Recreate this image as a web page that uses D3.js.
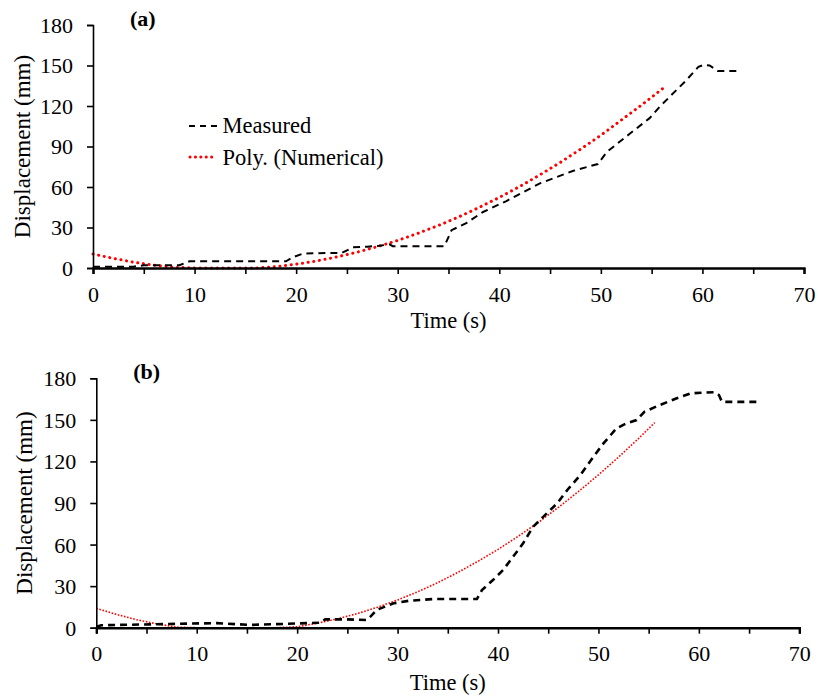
<!DOCTYPE html>
<html>
<head>
<meta charset="utf-8">
<script src="https://cdn.jsdelivr.net/npm/d3@7"></script>
<style>
  html, body { margin: 0; padding: 0; background: #fff; }
  svg { display: block; }
  text { font-family: "Liberation Serif", "Times New Roman", Times, serif; fill: #000; }
</style>
</head>
<body>
<svg id="chart" width="818" height="696"></svg>
<script>
// ---------- data ----------
const xTicks = [0, 10, 20, 30, 40, 50, 60, 70];
const xMinorTicks = [5, 15, 25, 35, 45, 55, 65];
const yTicks = [0, 30, 60, 90, 120, 150, 180];

// Panel (a)
const measuredA_t = [0, 4, 5, 8.5, 9.5, 19, 19.7, 20.7, 24.5, 25.6, 27, 28.2, 29.2, 29.5, 34.6, 35.3, 36.8, 38.4, 40.7, 44, 47.3, 49.7, 50.6, 52.9, 54.8, 55.8, 58.4, 59.6, 60.1, 60.7, 61.5, 63.5];
const measuredA_v = [1, 1, 2, 2, 5, 5, 8, 10.8, 11.2, 15.3, 15.8, 16.5, 17.5, 16.2, 16.2, 28, 33.5, 41.5, 49.6, 62.7, 72, 77, 86, 99.8, 111, 119.5, 139, 149, 150.4, 150, 146, 146];
const polyA_t = [0, 2, 4, 6, 8, 10, 12, 14, 16, 18, 20, 22, 24, 26, 28, 30, 32, 34, 36, 38, 40, 42, 44, 46, 48, 50, 52, 54, 56.1];
const polyA_v = [10.4, 7.1, 4.3, 2.1, 0.5, 0, 0, 0, 0, 1.0, 2.85, 5.2, 8.2, 11.7, 15.8, 20.4, 25.7, 31.5, 37.8, 44.8, 52.3, 60.3, 69, 78.2, 88, 98.3, 109.5, 120.7, 133];

// Panel (b)
const measuredB_t = [0, 0.5, 5.4, 10.3, 12, 15.3, 20.3, 22.3, 22.8, 24.9, 26.9, 27.3, 27.9, 29.6, 30.2, 31.2, 33.6, 37.9, 38.4, 39.5, 40.5, 41.5, 42.5, 43.5, 44.5, 45.9, 46.9, 48.2, 49.5, 50.5, 51.8, 52.8, 53.8, 54.6, 56.1, 57.8, 59.2, 61.5, 62, 62.3, 66];
const measuredB_v = [0.7, 1.8, 2.4, 3.1, 3.3, 2, 3.1, 3.6, 6, 6, 5.5, 8, 12.8, 17.6, 18.3, 19.5, 20.7, 20.7, 27.2, 34.4, 41.6, 51.2, 60.9, 72.9, 80, 89.8, 99.4, 110.2, 123.4, 133, 143.9, 147.5, 149.9, 155.9, 160.7, 165.6, 169.2, 170, 167.9, 163, 163];
const polyB_t = [0, 2, 4, 6, 8, 10, 12, 14, 16, 18, 20, 22, 24, 26, 28, 30, 32, 34, 36, 38, 40, 42, 44, 46, 48, 50, 52, 54, 55.6];
const polyB_v = [14, 9.6, 5.8, 2.8, 0.4, 0, 0, 0, 0, 0, 0.7, 3.2, 6.4, 10.2, 14.8, 20, 25.9, 32.5, 39.9, 47.9, 56.5, 65.9, 75.9, 86.8, 98.2, 110.3, 123.1, 136.6, 148];

const legendLabels = ["Measured", "Poly. (Numerical)"];
const xTitle = "Time (s)";
const yTitle = "Displacement (mm)";

// ---------- drawing ----------
const svg = d3.select("#chart");
const zip = (ts, vs) => ts.map((t, i) => [t, vs[i]]);

function panel(cfg) {
  const x = d3.scaleLinear().domain([0, 70]).range([cfg.x0, cfg.x1]);
  const y = d3.scaleLinear().domain([0, 180]).range([cfg.y0, cfg.y1]);
  const g = svg.append("g");

  const line = d3.line().x(d => x(d[0])).y(d => y(d[1]));

  // series
  g.append("path").datum(zip(cfg.polyT, cfg.polyV))
    .attr("d", line).attr("fill", "none")
    .attr("stroke", "#ff0000")
    .attr("stroke-width", cfg.polyWidth)
    .attr("stroke-dasharray", cfg.polyDash)
    .attr("stroke-linecap", cfg.polyCap);

  g.append("path").datum(zip(cfg.measT, cfg.measV))
    .attr("d", line).attr("fill", "none")
    .attr("stroke", "#000")
    .attr("stroke-width", cfg.measWidth)
    .attr("stroke-dasharray", "7,5");

  // y axis
  const yAxis = g.append("g").attr("transform", `translate(${cfg.x0},0)`)
    .call(d3.axisLeft(y).tickValues(yTicks).tickSize(6).tickPadding(14).tickFormat(d3.format("d")));
  yAxis.select(".domain").attr("stroke-width", 1.6);
  yAxis.selectAll(".tick line").attr("stroke-width", 1.6);
  yAxis.selectAll("text").style("font-size", "22px").attr("dy", "0.34em");

  // x axis
  const xAxis = g.append("g").attr("transform", `translate(0,${cfg.y0})`)
    .call(d3.axisBottom(x).tickValues(xTicks.concat(xMinorTicks)).tickSize(6).tickPadding(12)
      .tickFormat(d => xTicks.includes(d) ? d : ""));
  xAxis.select(".domain").attr("stroke-width", 2.4);
  xAxis.selectAll(".tick line").attr("stroke-width", 1.6);
  xAxis.selectAll("text").style("font-size", "22px");

  // titles
  g.append("text").attr("x", (cfg.x0 + cfg.x1) / 2).attr("y", cfg.xTitleY)
    .attr("text-anchor", "middle").style("font-size", "22.5px").text(xTitle);
  g.append("text")
    .attr("transform", `translate(${cfg.yTitleX},${(cfg.y0 + cfg.y1) / 2}) rotate(-90)`)
    .attr("text-anchor", "middle").attr("dy", "0.35em").style("font-size", "23px").text(yTitle);

  g.append("text").attr("x", cfg.x0 + 37).attr("y", cfg.y1 + 1)
    .style("font-size", "22px").style("font-weight", "bold").text(cfg.label);
  return { x, y, g };
}

panel({
  x0: 93, x1: 804, y0: 268, y1: 25,
  measT: measuredA_t, measV: measuredA_v, polyT: polyA_t, polyV: polyA_v,
  measWidth: 2, polyWidth: 3, polyDash: "0.1,5.6", polyCap: "round",
  xTitleY: 328, yTitleX: 22, label: "(a)"
});

panel({
  x0: 96.3, x1: 799.3, y0: 627.7, y1: 378.3,
  measT: measuredB_t, measV: measuredB_v, polyT: polyB_t, polyV: polyB_v,
  measWidth: 2.6, polyWidth: 1.6, polyDash: "1.6,1.6", polyCap: "butt",
  xTitleY: 690, yTitleX: 24, label: "(b)"
});

// legend (panel a)
const leg = svg.append("g");
leg.append("line").attr("x1", 189).attr("x2", 221).attr("y1", 126).attr("y2", 126)
  .attr("stroke", "#000").attr("stroke-width", 2).attr("stroke-dasharray", "6,5");
leg.append("line").attr("x1", 190).attr("x2", 216).attr("y1", 157).attr("y2", 157)
  .attr("stroke", "#ff0000").attr("stroke-width", 3).attr("stroke-dasharray", "0.1,5.3").attr("stroke-linecap", "round");
leg.append("text").attr("x", 222.5).attr("y", 133).style("font-size", "22.5px").text(legendLabels[0]);
leg.append("text").attr("x", 222.5).attr("y", 165).style("font-size", "22.5px").text(legendLabels[1]);
</script>
</body>
</html>
